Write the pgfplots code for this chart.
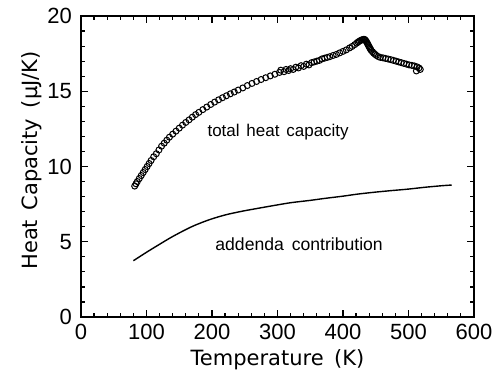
\documentclass[border=0pt]{standalone}
\usepackage{pgfplots}
\pgfplotsset{compat=1.18}
\usepackage{fontspec}
\setmainfont{Liberation Sans}
\newfontfamily\labelfont{DejaVu Sans}

\begin{document}
\begin{tikzpicture}
\begin{axis}[
  scale only axis, width=196.5pt, height=150.5pt,
  xmin=0, xmax=600, ymin=0, ymax=20,
  xtick={0,100,...,600}, ytick={0,5,...,20},
  minor x tick num=4, minor y tick num=4,
  tick align=inside, major tick length=3.5pt, minor tick length=2pt,
  axis line style={line width=1pt},
  every tick/.style={line width=0.6pt, black},
  xticklabel style={font=\fontsize{11}{13}\selectfont},
  yticklabel style={font=\fontsize{11}{13}\selectfont, xshift=-1pt},
  /pgf/number format/assume math mode=true,
  xlabel={\labelfont\fontsize{10.5}{12}\selectfont Temperature\hspace{0.5em}(K)},
  every axis x label/.style={at={(axis description cs:0.5,0)}, anchor=base, yshift=-24pt},
  clip=false,
]
\path (rel axis cs:-0.2061,-0.1894) rectangle (rel axis cs:1.0662,1.0532);

\addplot[only marks, mark=o, mark size=1.5pt, mark options={line width=0.5pt, black}] coordinates {
(82,8.7) (84,8.85) (86,9.0) (89,9.2) (92,9.4) (95,9.6) (98,9.8) (101,10.0)
(104,10.2) (107,10.4) (111,10.65) (115,10.85) (119,11.1) (123,11.35) (127,11.55)
(131,11.75) (135,11.95) (140,12.15) (145,12.35) (150,12.55) (155,12.75) (160,12.93)
(165,13.1) (170,13.28) (175,13.45) (180,13.6) (186,13.78) (192,13.95) (198,14.12)
(204,14.28) (210,14.43) (216,14.57) (222,14.7) (228,14.83) (234,14.95) (240,15.08)
(247,15.22) (254,15.38) (261,15.52) (268,15.65) (275,15.78) (282,15.9) (289,16.02)
(296,16.13) (303,16.25) (305,16.4) (310,16.3) (313,16.45) (317,16.38) (320,16.5)
(324,16.45) (328,16.6) (332,16.55) (336,16.7) (340,16.65) (344,16.8) (348,16.75)
(352,16.9) (356,16.95) (360,17.0) (364,17.05) (368,17.15) (372,17.2) (376,17.25)
(380,17.3) (385,17.38) (390,17.45) (395,17.55) (400,17.65) (405,17.75) (410,17.88)
(414,17.98) (418,18.1) (421,18.2) (423,18.27) (425,18.33) (427,18.38) (429,18.42)
(431,18.44) (432,18.45) (433,18.44) (434,18.4) (435,18.35) (436,18.28) (437,18.2)
(438,18.12) (439,18.03) (440,17.95) (441,17.87) (442,17.8) (443,17.72) (445,17.62)
(447,17.53) (449,17.45) (451,17.38) (454,17.3) (457,17.25) (461,17.22) (465,17.18)
(469,17.14) (473,17.1) (477,17.05) (481,17.0) (485,16.95) (489,16.9) (493,16.85)
(497,16.8) (501,16.75) (505,16.72) (509,16.68) (513,16.62) (516,16.55) (512,16.35)
(518,16.45)
};

\addplot[black, line width=0.7pt, smooth, mark=none] coordinates {
(80,3.74) (100,4.3) (118,4.78) (140,5.35) (169,6.0) (195,6.45) (220,6.78)
(245,7.02) (270,7.22) (300,7.45) (321,7.6) (350,7.75) (372,7.88) (400,8.03)
(423,8.17) (450,8.3) (474,8.4) (500,8.5) (525,8.62) (550,8.72) (566,8.77)
};

\node[font=\fontsize{8.5}{10}\selectfont] at (axis cs:301,12.3) {total\hspace{0.4em}heat\hspace{0.4em}capacity};
\node[font=\fontsize{8.8}{10}\selectfont] at (axis cs:333,4.85) {addenda\hspace{0.45em}contribution};
\node[rotate=90, anchor=base, font=\labelfont\fontsize{10.5}{12}\selectfont] at ([xshift=-21.5pt]rel axis cs:0,0.52) {Heat\hspace{0.45em}Capacity\hspace{0.5em}(μJ/K)};
\end{axis}
\end{tikzpicture}
\end{document}
